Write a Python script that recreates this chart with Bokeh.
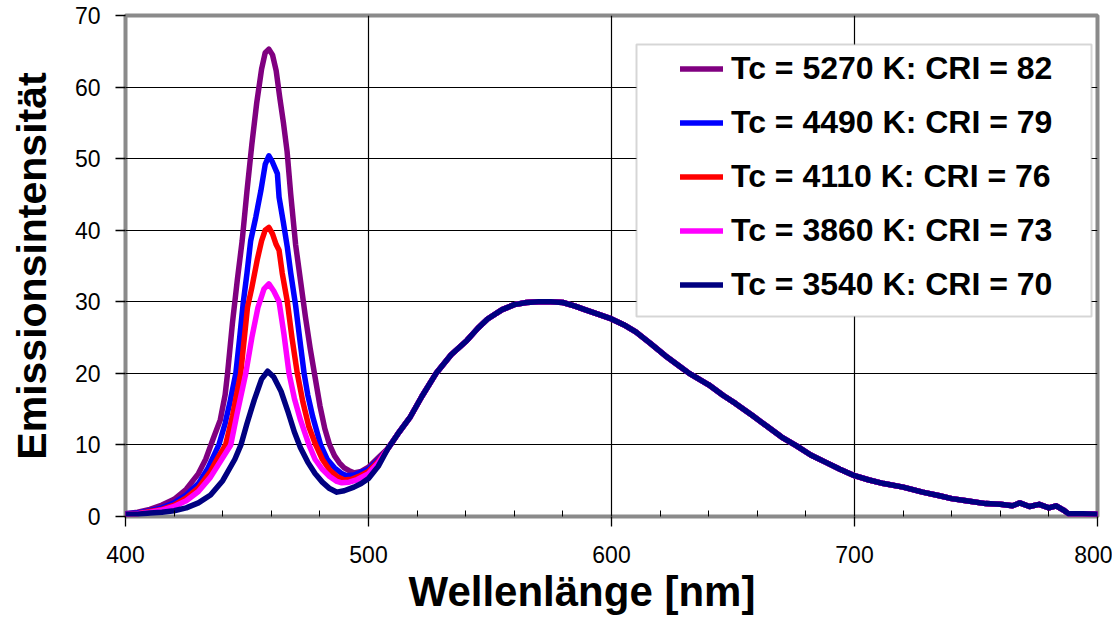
from bokeh.plotting import figure
from bokeh.models import Range1d, FixedTicker, Legend, LegendItem, BoxAnnotation, Title
from bokeh.embed import file_html
from bokeh.resources import INLINE

# ---------------- data ----------------
series_labels = ["Tc = 5270 K: CRI = 82", "Tc = 4490 K: CRI = 79", "Tc = 4110 K: CRI = 76",
                 "Tc = 3860 K: CRI = 73", "Tc = 3540 K: CRI = 70"]
series_colors = ["#800080", "#0000FF", "#FF0000", "#FF00FF", "#000080"]

wl_5270 = [400, 405, 410, 415, 420, 425, 430, 433, 436, 439, 441, 442, 444, 446, 448, 450, 452, 454, 456,
           457.5, 459, 460.5, 462, 463.5, 465, 466.5, 468, 470, 472, 474, 476, 478, 480, 482, 484, 486,
           488, 490, 492, 494, 497, 500, 504]
em_5270 = [0.4, 0.6, 1.0, 1.6, 2.4, 3.8, 6.0, 8.0, 10.8, 13.5, 17.0, 20.0, 27.0, 33.0, 38.5, 45.5, 52.0,
           57.8, 62.5, 64.8, 65.3, 64.5, 62.3, 58.5, 55.0, 51.0, 45.0, 38.0, 33.0, 28.0, 23.5, 19.5, 15.5,
           12.3, 10.0, 8.5, 7.5, 6.8, 6.4, 6.1, 6.3, 6.9, 8.2]

wl_4490 = [400, 405, 410, 415, 420, 425, 430, 434, 438.4, 441, 443, 445.4, 447, 448.5, 450, 451.5, 453.6,
           455.7, 457.5, 459, 460.5, 462.5, 463.2, 465, 466.6, 468, 470, 472, 473.5, 475, 477, 480.3, 483,
           486, 489, 491, 494, 497, 500, 504]
em_4490 = [0.4, 0.5, 0.8, 1.2, 1.9, 3.0, 4.6, 6.8, 10.0, 13.0, 16.0, 20.0, 25.0, 30.0, 34.0, 38.5, 41.8,
           45.5, 49.2, 50.4, 49.5, 47.9, 44.6, 41.0, 37.6, 34.0, 29.5, 24.0, 20.0, 17.0, 14.0, 10.0, 8.0,
           6.8, 6.0, 5.7, 5.8, 6.2, 6.6, 7.9]

wl_4110 = [400, 405, 410, 415, 420, 425, 430, 435, 438, 441.2, 444, 447.4, 450.2, 452, 454.3, 456, 457.5,
           459, 460.5, 462, 463.2, 464.5, 466.6, 468.5, 470.7, 473, 475.5, 478.3, 481, 484, 487, 490, 493,
           496, 500, 504]
em_4110 = [0.3, 0.4, 0.7, 1.0, 1.6, 2.6, 4.0, 6.3, 8.2, 10.0, 14.0, 20.0, 29.2, 32.0, 36.0, 38.5, 40.0,
           40.4, 39.5, 38.0, 37.2, 34.0, 30.0, 25.0, 20.0, 16.0, 12.5, 10.0, 8.0, 6.5, 5.6, 5.1, 5.2,
           5.6, 6.3, 7.7]

wl_3860 = [400, 405, 410, 415, 420, 425, 430, 435, 440, 443.3, 446, 449.5, 452, 454.5, 457, 459, 461, 463.2,
           465.2, 467.3, 469.5, 472, 475.5, 478, 481, 484, 487, 489, 492, 495, 500, 504]
em_3860 = [0.3, 0.4, 0.6, 0.9, 1.4, 2.2, 3.5, 5.5, 8.2, 10.0, 14.5, 20.0, 25.0, 29.2, 31.8, 32.5, 31.5,
           30.0, 25.5, 20.0, 16.5, 13.5, 10.0, 8.0, 6.6, 5.6, 4.9, 4.7, 4.8, 5.1, 6.0, 7.5]

wl_3540 = [400, 405, 410, 415, 420, 425, 430, 435, 440, 445, 447.5, 450, 453, 456, 458.5, 461, 464, 467,
           469.5, 472, 475, 478, 481, 484, 487, 490, 494, 497, 500, 504]
em_3540 = [0.3, 0.3, 0.5, 0.6, 0.8, 1.2, 1.9, 3.0, 5.0, 8.0, 10.0, 13.0, 16.3, 19.2, 20.3, 19.5, 17.5,
           14.5, 11.8, 9.6, 7.6, 6.0, 4.8, 3.9, 3.4, 3.6, 4.1, 4.6, 5.3, 7.0]

# common yellow phosphor band (identical for all five spectra)
wl_tail = [508, 512, 517, 522, 528, 534, 540.5, 545, 549, 555, 560, 565, 570, 575, 580, 585, 589, 595, 600,
           605, 610, 616, 622, 628, 632, 640, 646, 651, 658, 664, 670, 676, 682, 688, 694, 700, 706, 712,
           720, 728, 735, 740, 746, 754, 760, 765, 768, 772, 776, 780, 783, 786, 788, 794, 800]
em_tail = [9.5, 11.5, 13.8, 16.8, 20.1, 22.6, 24.6, 26.3, 27.6, 28.9, 29.6, 29.9, 30.0, 30.0, 29.9, 29.4,
           28.9, 28.2, 27.6, 26.8, 25.8, 24.2, 22.5, 21.0, 20.0, 18.4, 16.9, 15.8, 14.1, 12.6, 11.1, 9.9,
           8.6, 7.6, 6.6, 5.7, 5.1, 4.6, 4.1, 3.4, 2.9, 2.5, 2.2, 1.8, 1.7, 1.5, 1.9, 1.4, 1.7, 1.2, 1.5,
           0.9, 0.4, 0.4, 0.3]

x_ticks = [400, 500, 600, 700, 800]
x_minor = [420, 440, 460, 480, 520, 540, 560, 580, 620, 640, 660, 680, 720, 740, 760, 780]
y_ticks = [0, 10, 20, 30, 40, 50, 60, 70]

peaks = [(wl_5270, em_5270), (wl_4490, em_4490), (wl_4110, em_4110), (wl_3860, em_3860), (wl_3540, em_3540)]

FONT = "Liberation Sans"

# ---------------- figure ----------------
p = figure(width=1112, height=618, output_backend="svg", toolbar_location=None,
           x_range=Range1d(400, 800), y_range=Range1d(0, 70),
           min_border_left=125, min_border_top=15, min_border_right=15, min_border_bottom=102)
p.background_fill_color = "white"
p.border_fill_color = "white"
p.outline_line_color = "#8a8a8a"
p.outline_line_width = 4

# grid
p.xgrid.ticker = FixedTicker(ticks=[500, 600, 700])
p.ygrid.ticker = FixedTicker(ticks=[10, 20, 30, 40, 50, 60])
for g in (p.xgrid, p.ygrid):
    g.grid_line_color = "black"
    g.grid_line_width = 1.2
    g.grid_line_alpha = 1.0

# axes
p.xaxis.ticker = FixedTicker(ticks=x_ticks, minor_ticks=x_minor)
p.yaxis.ticker = FixedTicker(ticks=y_ticks)
for ax in (p.xaxis, p.yaxis):
    ax.axis_line_color = None
    ax.major_tick_line_color = "black"
    ax.major_tick_line_width = 1.3
    ax.major_tick_out = 10
    ax.major_tick_in = 0
    ax.major_label_text_font = FONT
    ax.major_label_text_font_size = "23px"
    ax.major_label_text_color = "black"
p.xaxis.minor_tick_line_color = "black"
p.xaxis.minor_tick_line_width = 1.0
p.xaxis.minor_tick_in = 6
p.xaxis.minor_tick_out = 0
p.yaxis.minor_tick_line_color = None
p.xaxis.major_label_standoff = 19
p.yaxis.major_label_standoff = 15

p.yaxis.axis_label = "Emissionsintensität"
p.yaxis.axis_label_text_font = FONT
p.yaxis.axis_label_text_font_size = "41px"
p.yaxis.axis_label_text_font_style = "bold"
p.yaxis.axis_label_text_color = "black"
p.yaxis.axis_label_standoff = 17

# lines
items = []
for (wl, em), lab, col in zip(peaks, series_labels, series_colors):
    r = p.line(wl + wl_tail, em + em_tail, line_color=col, line_width=5.5, line_join="round", line_cap="round")
    items.append(LegendItem(label=lab, renderers=[r]))

# legend frame + legend
box = BoxAnnotation(left=511, right=966, top=472, bottom=200,
                    left_units="screen", right_units="screen", top_units="screen", bottom_units="screen",
                    fill_color="white", fill_alpha=1.0, line_color="#777777", line_width=2, level="annotation")
p.add_layout(box)

legend = Legend(items=items, location=(555, 211), padding=0, margin=0, spacing=13,
                glyph_width=43, glyph_height=41, label_height=41, label_standoff=8,
                label_text_font=FONT, label_text_font_size="32px", label_text_font_style="bold",
                label_text_color="black", border_line_color=None, background_fill_alpha=0.0)
p.add_layout(legend, "center")

# x axis title (placed left-aligned like the original)
xtitle = Title(text="Wellenlänge [nm]", align="left", offset=283, standoff=0, vertical_align="bottom",
               text_font=FONT, text_font_size="42px", text_font_style="bold", text_color="black")
p.add_layout(xtitle, "below")

open("out.html", "w").write(file_html(p, INLINE))
